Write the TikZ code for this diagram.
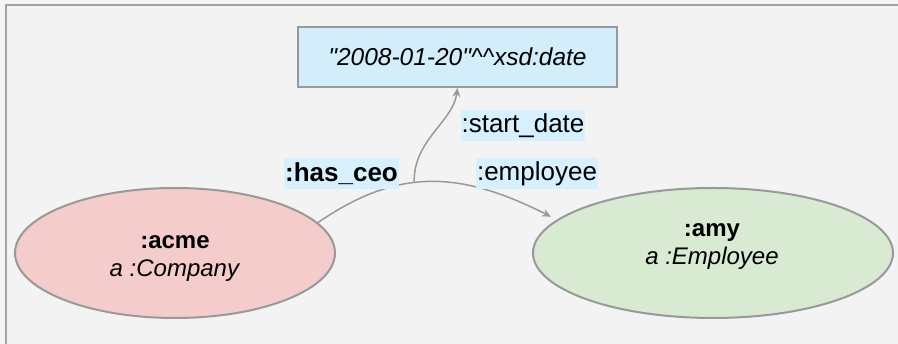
\documentclass[tikz,border=0pt]{standalone}
\usepackage{fontspec}
\setmainfont{Liberation Sans}[Ligatures=TeXOff]
\usetikzlibrary{shapes.geometric,arrows.meta}
\definecolor{bgc}{HTML}{F3F3F3}
\definecolor{framec}{HTML}{A2A2A2}
\definecolor{linec}{HTML}{999999}
\definecolor{pinkc}{HTML}{F4CCCC}
\definecolor{greenc}{HTML}{D9EAD3}
\definecolor{bluec}{HTML}{D3EEFA}
\definecolor{lblc}{HTML}{D6F1FD}
\tikzset{
  ent/.style={ellipse, draw=linec, line width=2pt, inner sep=0pt, align=center,
    font=\fontsize{24}{28}\selectfont},
  lit/.style={rectangle, draw=linec, line width=2pt, fill=bluec, inner sep=0pt,
    minimum width=319pt, minimum height=60pt, font=\fontsize{24.5}{28}\selectfont\itshape},
  elbl/.style={fill=lblc, inner xsep=1pt, inner ysep=0pt, minimum height=31pt,
    font=\fontsize{26}{30}\selectfont},
  conn/.style={draw=linec, line width=1.5pt,
    -{Stealth[length=9pt,width=8pt,inset=3pt]}},
  plain/.style={draw=linec, line width=1.5pt}
}
\begin{document}
\begin{tikzpicture}[x=1pt,y=-1pt]
\useasboundingbox (0,0) rectangle (898,344);
\fill[bgc] (0,0) rectangle (898,344);
\draw[framec, line width=2pt] (6,344) -- (6,5) -- (898,5);

\node[ent, fill=pinkc, minimum width=320pt, minimum height=130pt] (acme) at (175,253) {};
\node[align=center, font=\fontsize{24}{28}\selectfont] (acmet) at (175,259) {\textbf{:acme}\\\textit{a :Company}};
\node[ent, fill=greenc, minimum width=360pt, minimum height=130pt] (amy) at (713,253) {};
\node[align=center, font=\fontsize{24}{28}\selectfont] (amyt) at (712,247) {\textbf{:amy}\\\textit{a :Employee}};

\node[lit] (date) at (457.5,57) {\char34 2008-01-20\char34\^{}\^{}xsd:date};

\draw[conn] (acme.12) .. controls (400,166) and (462,172) .. ([shift={(-9,-1)}]amy.167)
  coordinate[pos=0.42] (fork);
\draw[conn] (fork) .. controls (413,140) and (453,122) .. (date.south);

\node[elbl, font=\fontsize{26}{30}\selectfont\bfseries] (hasceo) at (341.5,173.5) {:has\_ceo};
\node[elbl] (emp) at (537,173.5) {:employee};
\node[elbl] (sd) at (523,126) {:start\_date};
\end{tikzpicture}
\end{document}
